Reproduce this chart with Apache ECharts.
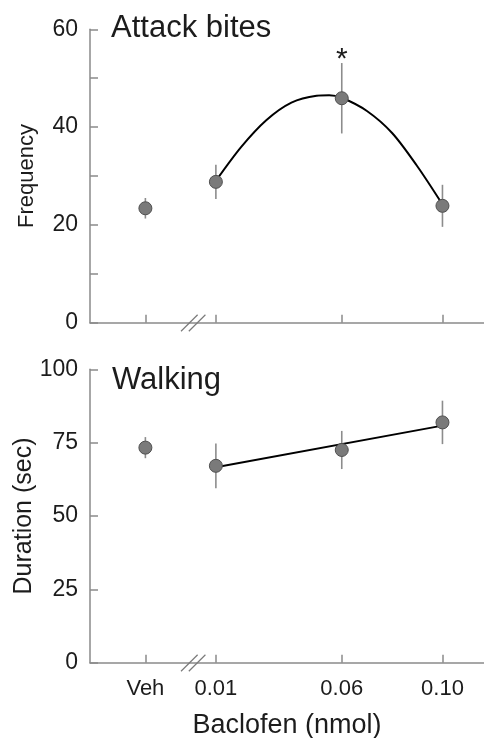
<!DOCTYPE html>
<html><head><meta charset="utf-8">
<script src="https://cdn.jsdelivr.net/npm/echarts@6/dist/echarts.min.js"></script>
<style>html,body{margin:0;padding:0;background:#fff}#c{width:484px;height:738px}</style>
</head><body><div id="c"></div>
<script>
// ---- data ----
const doseLabels = ['Veh', '0.01', '0.06', '0.10'];
const dosePositions = [-0.018, 0.01, 0.06, 0.10];   // where each group sits on the dose axis
const breakDose = 0.001;                            // axis-break marker position

const biteMeans = [23.4, 28.8, 45.9, 23.9];
const biteErrors = [2.1, 3.5, 7.2, 4.3];
const biteSignificant = [false, false, true, false];
const biteFitDoses = [0.01, 0.02, 0.03, 0.04, 0.05, 0.055, 0.06, 0.07, 0.08, 0.09, 0.10];
const biteFitValues = [29.0, 35.9, 41.4, 45.0, 46.4, 46.5, 46.0, 43.3, 38.8, 32.0, 24.2];

const walkMeans = [73.3, 67.1, 72.5, 81.9];
const walkErrors = [3.6, 7.6, 6.5, 7.4];
const walkFitDoses = [0.01, 0.10];
const walkFitValues = [66.6, 80.8];

const biteTickValues = [0, 10, 20, 30, 40, 50, 60];
const biteLabelValues = [0, 20, 40, 60];
const walkTickValues = [0, 25, 50, 75, 100];
const walkLabelValues = [0, 25, 50, 75, 100];

const titles = ['Attack bites', 'Walking'];
const yNames = ['Frequency', 'Duration (sec)'];
const xName = 'Baclofen (nmol)';

// ---- styling ----
const FONT = '"Liberation Sans", Arial, sans-serif';
const TXT = '#1c1c1c';
const AX = '#8a8a8a';
const X_MIN = -0.04, X_MAX = 0.1165;

const grids = [
  { left: 90, right: 0, top: 29.3, height: 293.4, outerBoundsMode: 'none', containLabel: false },
  { left: 90, right: 0, top: 369.3, height: 293.4, outerBoundsMode: 'none', containLabel: false }
];

function xAxisFor(i) {
  return {
    type: 'value', gridIndex: i, min: X_MIN, max: X_MAX,
    axisLine: { show: true, onZero: false, lineStyle: { color: AX, width: 1.5 } },
    splitLine: { show: false },
    axisTick: { show: true, inside: true, length: 8, customValues: dosePositions,
                lineStyle: { color: AX, width: 1.5 } },
    axisLabel: { show: i === 1, customValues: dosePositions, margin: 15,
                 color: TXT, fontFamily: FONT, fontSize: 22,
                 formatter: v => {
                   const k = dosePositions.findIndex(d => Math.abs(d - v) < 1e-9);
                   return k >= 0 ? doseLabels[k] : '';
                 } },
    name: i === 1 ? xName : '',
    nameLocation: 'middle', nameGap: 49, nameMoveOverlap: false,
    nameTextStyle: { color: TXT, fontFamily: FONT, fontSize: 27 }
  };
}

function yAxisFor(i) {
  const ticks = i === 0 ? biteTickValues : walkTickValues;
  const labels = i === 0 ? biteLabelValues : walkLabelValues;
  return {
    type: 'value', gridIndex: i, min: ticks[0], max: ticks[ticks.length - 1],
    axisLine: { show: true, onZero: false, lineStyle: { color: AX, width: 1.5 } },
    splitLine: { show: false },
    axisTick: { show: true, inside: true, length: 8, customValues: ticks,
                lineStyle: { color: AX, width: 1.5 } },
    axisLabel: { customValues: labels, margin: 12, color: TXT, fontFamily: FONT, fontSize: 23 },
    name: yNames[i], nameLocation: 'middle', nameRotate: 90, nameGap: i === 0 ? 52 : 53,
    nameMoveOverlap: false,
    nameTextStyle: { color: TXT, fontFamily: FONT, fontSize: i === 0 ? 22 : 25 }
  };
}

function errorSeries(i, means, errs, sig) {
  return {
    type: 'custom', xAxisIndex: i, yAxisIndex: i, z: 2,
    data: dosePositions.map((d, k) => [d, means[k] - errs[k], means[k] + errs[k], sig ? (sig[k] ? 1 : 0) : 0]),
    encode: { x: 0, y: [1, 2] },
    renderItem: (params, api) => {
      const lo = api.coord([api.value(0), api.value(1)]);
      const hi = api.coord([api.value(0), api.value(2)]);
      const children = [{
        type: 'line',
        shape: { x1: lo[0], y1: lo[1], x2: hi[0], y2: hi[1] },
        style: { stroke: '#8c8c8c', lineWidth: 1.6 }
      }];
      if (api.value(3) === 1) {
        children.push({
          type: 'text',
          style: { text: '*', x: hi[0], y: hi[1] + 12, align: 'center', verticalAlign: 'bottom',
                   font: '30px ' + FONT, fill: TXT }
        });
      }
      return { type: 'group', children };
    }
  };
}

function fitSeries(i, xs, ys, smooth) {
  return {
    type: 'line', xAxisIndex: i, yAxisIndex: i, z: 3,
    data: xs.map((x, k) => [x, ys[k]]),
    showSymbol: false, symbol: 'none', smooth: smooth,
    lineStyle: { color: '#000', width: 2 }, silent: true
  };
}

function pointSeries(i, means) {
  return {
    type: 'scatter', xAxisIndex: i, yAxisIndex: i, z: 4,
    data: dosePositions.map((d, k) => [d, means[k]]),
    symbolSize: 13,
    itemStyle: { color: '#7a7a7a', borderColor: '#505050', borderWidth: 1, opacity: 1 }
  };
}

const chart = echarts.init(document.getElementById('c'), null, { renderer: 'canvas' });
chart.setOption({
  animation: false,
  backgroundColor: '#fff',
  textStyle: { fontFamily: FONT },
  title: [
    { text: titles[0], left: 106, top: 8, textStyle: { fontFamily: FONT, fontSize: 31, fontWeight: 'normal', color: TXT } },
    { text: titles[1], left: 107, top: 360, textStyle: { fontFamily: FONT, fontSize: 31, fontWeight: 'normal', color: TXT } }
  ],
  grid: grids,
  xAxis: [xAxisFor(0), xAxisFor(1)],
  yAxis: [yAxisFor(0), yAxisFor(1)],
  series: [
    errorSeries(0, biteMeans, biteErrors, biteSignificant),
    fitSeries(0, biteFitDoses, biteFitValues, 0.3),
    pointSeries(0, biteMeans),
    errorSeries(1, walkMeans, walkErrors, null),
    fitSeries(1, walkFitDoses, walkFitValues, false),
    pointSeries(1, walkMeans)
  ]
});

// axis-break slashes, positioned through the axis scale
function breakGraphics() {
  const out = [];
  [0, 1].forEach(g => {
    const p = chart.convertToPixel({ gridIndex: g }, [breakDose, 0]);
    [-3.9, 3.9].forEach(dx => {
      out.push({
        type: 'line', z: 10,
        shape: { x1: p[0] + dx - 8.3, y1: p[1] + 8.5, x2: p[0] + dx + 8.3, y2: p[1] - 8 },
        style: { stroke: '#7a7a7a', lineWidth: 1.2 }
      });
    });
  });
  return out;
}
chart.setOption({ graphic: breakGraphics() });
</script>
</body></html>
